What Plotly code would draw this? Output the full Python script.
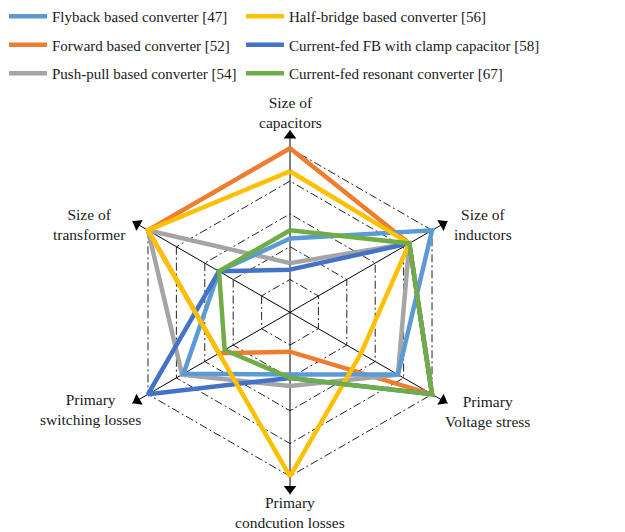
import plotly.graph_objects as go

# Radar axes (clockwise from the top)
categories = [
    "Size of capacitors",
    "Size of inductors",
    "Primary Voltage stress",
    "Primary condcution losses",
    "Primary switching losses",
    "Size of transformer",
]
axis_labels = [
    "Size of<br>capacitors",
    "Size of<br>inductors",
    "Primary<br>Voltage stress",
    "Primary<br>condcution losses",
    "Primary<br>switching losses",
    "Size of<br>transformer",
]

# Scores per converter topology (same axis order as above)
flyback = [2.25, 5.0, 3.8, 1.9, 3.75, 2.5]
forward = [5.0, 4.2, 5.0, 1.2, 2.5, 5.0]
push_pull = [1.5, 4.2, 3.8, 2.25, 3.8, 5.0]
half_bridge = [4.3, 4.2, 2.5, 5.0, 2.5, 5.0]
cf_fb_clamp = [1.3, 4.2, 5.0, 2.0, 5.0, 2.5]
cf_resonant = [2.5, 4.2, 5.0, 2.0, 2.3, 2.5]

grid_levels = [1, 2, 3, 4, 5]
r_max = 5.55

W, H = 625, 532
cx, cy = 290, 312.3          # centre of the radar, px
unit = 32.8                  # px per score unit
rad = r_max * unit

# (name, values, colour, legend, rank) -- listed in drawing order
series = [
    ("Forward based converter [52]", forward, "#ED7D31", "legend", 2),
    ("Push-pull based converter [54]", push_pull, "#A5A5A5", "legend", 3),
    ("Flyback based converter [47]", flyback, "#5B9BD5", "legend", 1),
    ("Current-fed FB with clamp capacitor [58]", cf_fb_clamp, "#4472C4", "legend2", 2),
    ("Half-bridge based converter [56]", half_bridge, "#FFC000", "legend2", 1),
    ("Current-fed resonant converter [67]", cf_resonant, "#70AD47", "legend2", 3),
]

fig = go.Figure()
for name, vals, color, leg, rank in series:
    fig.add_trace(go.Scatterpolar(
        r=vals + vals[:1],
        theta=categories + categories[:1],
        mode="lines",
        name=name,
        line=dict(color=color, width=4.5),
        legend=leg,
        legendgroup=name,
        legendrank=rank,
        hoverinfo="skip",
    ))

# Arrowheads at the ends of the axes
fig.add_trace(go.Scatterpolar(
    r=[5.38] * len(categories),
    theta=categories,
    mode="markers",
    marker=dict(symbol="triangle-up", size=11, color="black",
                angle=[0, 60, 120, 180, 240, 300]),
    showlegend=False,
    hoverinfo="skip",
    cliponaxis=False,
))

serif = "Liberation Serif"

legend_style = dict(
    y=1.0, xanchor="left", yanchor="top",
    bgcolor="rgba(0,0,0,0)",
    font=dict(family=serif, size=15, color="#1a1a1a"),
    tracegroupgap=6,
    traceorder="grouped",
    itemwidth=38,
)

fig.update_layout(
    width=W, height=H,
    margin=dict(l=0, r=0, t=0, b=0),
    paper_bgcolor="white",
    plot_bgcolor="white",
    font=dict(family=serif, color="#1a1a1a"),
    polar=dict(
        domain=dict(x=[(cx - rad) / W, (cx + rad) / W],
                    y=[(H - cy - rad) / H, (H - cy + rad) / H]),
        bgcolor="rgba(0,0,0,0)",
        gridshape="linear",
        angularaxis=dict(
            type="category",
            categoryarray=categories,
            rotation=90,
            direction="clockwise",
            showline=False,
            showticklabels=False,
            ticks="",
            showgrid=True,
            gridcolor="black",
            gridwidth=1.3,
        ),
        radialaxis=dict(
            range=[0, r_max],
            tickvals=grid_levels,
            showticklabels=False,
            ticks="",
            showline=False,
            showgrid=True,
            gridcolor="#222222",
            gridwidth=0.8,
            griddash="8px,3px,2px,3px",
        ),
    ),
    legend=dict(x=4 / W, **legend_style),
    legend2=dict(x=241 / W, **legend_style),
)

# Axis titles
label_pos = [(290, 112), (483, 225), (487, 411), (290, 512.5), (90, 409.5), (89, 224)]
for text, (x, y) in zip(axis_labels, label_pos):
    fig.add_annotation(
        x=x / W, y=1 - y / H, xref="paper", yref="paper",
        text=text, showarrow=False, align="center",
        xanchor="center", yanchor="middle",
        font=dict(family=serif, size=15.5, color="#1a1a1a"),
    )

fig.write_html("out.html")
